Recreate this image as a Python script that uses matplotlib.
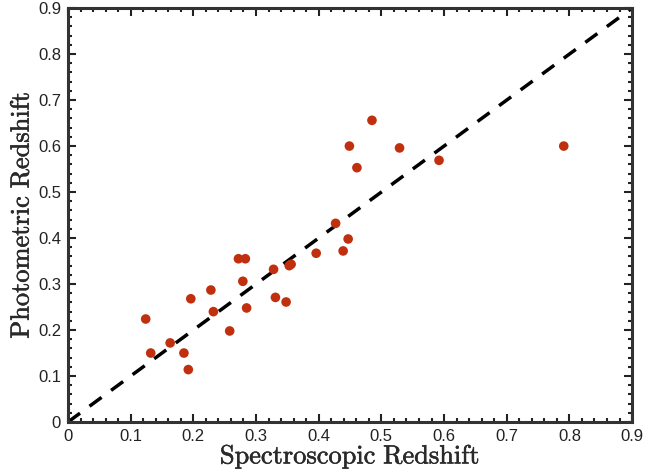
import matplotlib
matplotlib.use("Agg")
import matplotlib.pyplot as plt
import matplotlib.patheffects as pe
from matplotlib.ticker import MultipleLocator, FuncFormatter

# spectroscopic vs photometric redshift
z_spec = [0.124, 0.132, 0.163, 0.185, 0.192, 0.196, 0.228, 0.232, 0.258,
          0.272, 0.283, 0.279, 0.285, 0.328, 0.331, 0.348, 0.353, 0.356,
          0.396, 0.427, 0.439, 0.447, 0.449, 0.461, 0.485, 0.529, 0.592, 0.791]
z_phot = [0.224, 0.150, 0.172, 0.150, 0.114, 0.268, 0.287, 0.240, 0.198,
          0.355, 0.355, 0.306, 0.248, 0.332, 0.271, 0.261, 0.340, 0.343,
          0.367, 0.432, 0.372, 0.398, 0.600, 0.553, 0.656, 0.596, 0.569, 0.600]
one_to_one = [0, 0.9]

plt.rcParams['mathtext.fontset'] = 'cm'
plt.rcParams['font.family'] = ['Liberation Sans', 'DejaVu Sans']

fig = plt.figure(figsize=(6.71, 4.76), dpi=100)
ax = fig.add_axes([0.1013, 0.1134, 0.8407, 0.8696])

ax.plot(one_to_one, one_to_one, color='black', lw=2.5, dashes=(4.3, 3.4), zorder=2)
ax.scatter(z_spec, z_phot, s=48, color='#c0300f', edgecolors='none', zorder=3)

ax.set_xlim(0, 0.9)
ax.set_ylim(0, 0.9)
fmt = FuncFormatter(lambda v, pos: '0' if abs(v) < 1e-9 else f'{v:.1f}')
for axis in (ax.xaxis, ax.yaxis):
    axis.set_major_locator(MultipleLocator(0.1))
    axis.set_minor_locator(MultipleLocator(0.02))
    axis.set_major_formatter(fmt)
ax.tick_params(which='both', direction='in', top=True, right=True,
               width=1.5, labelsize=12, colors='#222222')
ax.tick_params(which='major', length=6, pad=5)
ax.tick_params(which='minor', length=3)
for s in ax.spines.values():
    s.set_linewidth(2.2)
    s.set_color('#333333')

# labels are slightly heavier than plain CM roman in the original
heavy = [pe.withStroke(linewidth=0.4, foreground='#2a2a2a')]
xl = ax.set_xlabel(r'$\mathrm{Spectroscopic\ Redshift}$', fontsize=19, labelpad=-1,
                   color='#2a2a2a')
yl = ax.set_ylabel(r'$\mathrm{Photometric\ Redshift}$', fontsize=19, labelpad=3,
                   color='#2a2a2a')
xl.set_path_effects(heavy)
yl.set_path_effects(heavy)

plt.savefig('out.png', dpi=100)
